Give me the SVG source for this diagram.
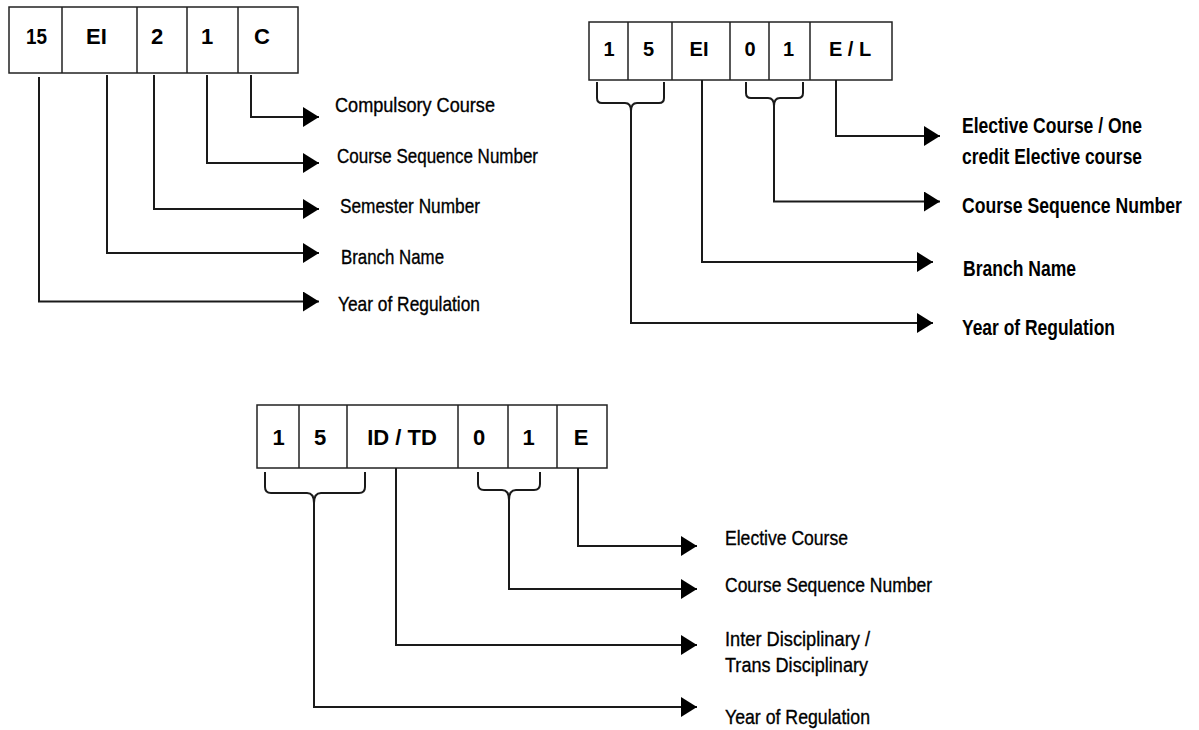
<svg xmlns="http://www.w3.org/2000/svg" width="1199" height="730" viewBox="0 0 1199 730">
<style>
.box{fill:#fff;stroke:#222;stroke-width:1.5}
.div{stroke:#222;stroke-width:1.5}
.code{font-family:"Liberation Sans",Arial,sans-serif;font-weight:bold;fill:#000;text-anchor:middle}
.lbl{font-family:"Liberation Sans",Arial,sans-serif;font-size:21px;fill:#000;stroke:#000;stroke-width:0.35}
.lblb{font-family:"Liberation Sans",Arial,sans-serif;font-size:22px;font-weight:bold;fill:#000}
.con{fill:none;stroke:#1a1a1a;stroke-width:2;stroke-linejoin:miter}
</style>
<defs>
<marker id="arr" markerUnits="userSpaceOnUse" markerWidth="16" markerHeight="20" refX="16" refY="10" orient="auto">
<path d="M0,0 L16,10 L0,20 Z" fill="#000"/>
</marker>
</defs>
<rect width="1199" height="730" fill="#fff"/>

<g id="code-15EI21C">
<rect class="box" x="9" y="7" width="289" height="66"/>
<path class="div" d="M62,7V73M137,7V73M187,7V73M238,7V73"/>
<text class="code" font-size="22" x="36.5" y="44" textLength="21" lengthAdjust="spacingAndGlyphs">15</text>
<text class="code" font-size="22" x="96.5" y="44">EI</text>
<text class="code" font-size="22" x="157" y="44">2</text>
<text class="code" font-size="22" x="207" y="44">1</text>
<text class="code" font-size="22" x="262" y="44">C</text>
</g>

<g id="code-15EI01EL">
<rect class="box" x="589" y="22" width="303" height="58"/>
<path class="div" d="M628,22V80M672,22V80M730,22V80M769,22V80M810,22V80"/>
<text class="code" font-size="20" x="609" y="56">1</text>
<text class="code" font-size="20" x="648.5" y="56">5</text>
<text class="code" font-size="20" x="699" y="56">EI</text>
<text class="code" font-size="20" x="750" y="56">0</text>
<text class="code" font-size="20" x="788.5" y="56">1</text>
<text class="code" font-size="20" x="850" y="56">E / L</text>
</g>

<g id="code-15IDTD01E">
<rect class="box" x="257" y="405" width="350" height="63"/>
<path class="div" d="M299,405V468M347,405V468M458,405V468M508,405V468M557,405V468"/>
<text class="code" font-size="22" x="278.5" y="445">1</text>
<text class="code" font-size="22" x="320" y="445">5</text>
<text class="code" font-size="22" x="402" y="445">ID / TD</text>
<text class="code" font-size="22" x="479" y="445">0</text>
<text class="code" font-size="22" x="528.5" y="445">1</text>
<text class="code" font-size="22" x="581" y="445">E</text>
</g>

<g id="braces">
<path class="con" d="M597,82 L597,98 Q597,103 602,103 L625,103 Q631,103 631,111 Q631,103 637,103 L659,103 Q664,103 664,98 L664,82"/>
<path class="con" d="M746,82 L746,93 Q746,98 751,98 L768,98 Q774,98 774,106 Q774,98 780,98 L798,98 Q803,98 803,93 L803,82"/>
<path class="con" d="M265,472 L265,487 Q265,493 271,493 L307,493 Q314,493 314,503 Q314,493 321,493 L359,493 Q365,493 365,487 L365,472"/>
<path class="con" d="M478,472 L478,484 Q478,490 484,490 L502,490 Q509,490 509,500 Q509,490 516,490 L534,490 Q540,490 540,484 L540,472"/>
</g>

<g id="connectors">
<path class="con" marker-end="url(#arr)" d="M251,75 V117 H319"/>
<path class="con" marker-end="url(#arr)" d="M207,75 V163 H319"/>
<path class="con" marker-end="url(#arr)" d="M154,75 V209 H319"/>
<path class="con" marker-end="url(#arr)" d="M107,75 V253 H319"/>
<path class="con" marker-end="url(#arr)" d="M39,77 V301.5 H319"/>

<path class="con" marker-end="url(#arr)" d="M836,80 V136 H940"/>
<path class="con" marker-end="url(#arr)" d="M774,106 V201.5 H940"/>
<path class="con" marker-end="url(#arr)" d="M702,80 V262 H933"/>
<path class="con" marker-end="url(#arr)" d="M631,111 V323 H933"/>

<path class="con" marker-end="url(#arr)" d="M578,468 V546 H697"/>
<path class="con" marker-end="url(#arr)" d="M509,500 V589 H697"/>
<path class="con" marker-end="url(#arr)" d="M396,468 V645 H697"/>
<path class="con" marker-end="url(#arr)" d="M314,503 V707 H697"/>
</g>

<g id="labels-top-left">
<text class="lbl" x="335" y="112" textLength="160" lengthAdjust="spacingAndGlyphs">Compulsory Course</text>
<text class="lbl" x="337" y="163" textLength="201" lengthAdjust="spacingAndGlyphs">Course Sequence Number</text>
<text class="lbl" x="340" y="213" textLength="140" lengthAdjust="spacingAndGlyphs">Semester Number</text>
<text class="lbl" x="341" y="264" textLength="103" lengthAdjust="spacingAndGlyphs">Branch Name</text>
<text class="lbl" x="338" y="311" textLength="142" lengthAdjust="spacingAndGlyphs">Year of Regulation</text>
</g>

<g id="labels-top-right">
<text class="lblb" x="962" y="133" textLength="180" lengthAdjust="spacingAndGlyphs">Elective Course / One</text>
<text class="lblb" x="962" y="164" textLength="180" lengthAdjust="spacingAndGlyphs">credit Elective course</text>
<text class="lblb" transform="matrix(0.8 0 0 1 962 213)" x="0" y="0">Course Sequence Number</text>
<text class="lblb" x="963" y="276" textLength="113" lengthAdjust="spacingAndGlyphs">Branch Name</text>
<text class="lblb" x="962" y="335" textLength="153" lengthAdjust="spacingAndGlyphs">Year of Regulation</text>
</g>

<g id="labels-bottom">
<text class="lbl" x="725" y="545" textLength="123" lengthAdjust="spacingAndGlyphs">Elective Course</text>
<text class="lbl" x="725" y="592" textLength="207" lengthAdjust="spacingAndGlyphs">Course Sequence Number</text>
<text class="lbl" x="725" y="646" textLength="145" lengthAdjust="spacingAndGlyphs">Inter Disciplinary /</text>
<text class="lbl" x="725" y="672" textLength="143" lengthAdjust="spacingAndGlyphs">Trans Disciplinary</text>
<text class="lbl" x="725" y="724" textLength="145" lengthAdjust="spacingAndGlyphs">Year of Regulation</text>
</g>
</svg>
